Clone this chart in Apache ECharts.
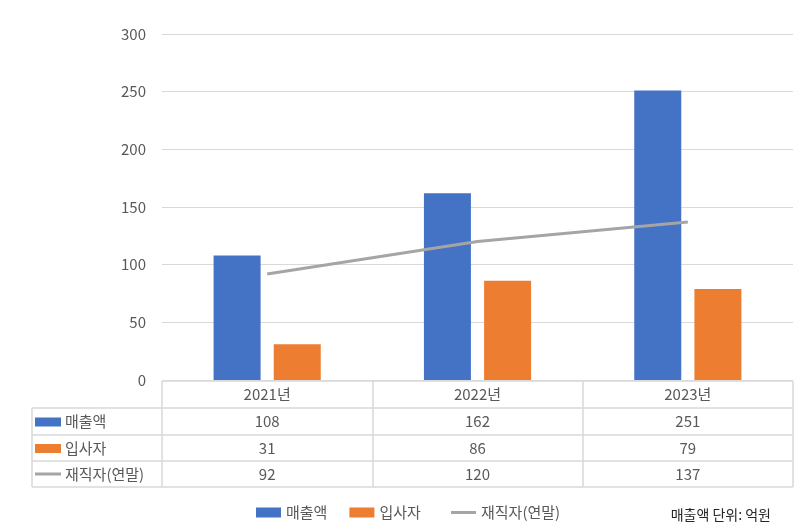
<!DOCTYPE html>
<html>
<head>
<meta charset="utf-8">
<script src="https://cdn.jsdelivr.net/npm/echarts@6/dist/echarts.min.js"></script>
<style>
  html, body { margin: 0; padding: 0; background: #fff; }
  #main { width: 803px; height: 531px; }
</style>
</head>
<body>
<div id="main"></div>
<script>
const years = ['2021년', '2022년', '2023년']
const sales = [108, 162, 251]
const hires = [31, 86, 79]
const staff = [92, 120, 137]
const seriesNames = ['매출액', '입사자', '재직자(연말)']
const colors = ['#4472c4', '#ed7d31', '#a5a5a5']

const FONT = '"Noto Sans CJK KR", "Noto Sans", sans-serif'
const TXT = '#595959'

const chartDom = document.getElementById('main')
const myChart = echarts.init(chartDom)

const option = {
    animation: false,
    textStyle: { fontFamily: FONT },
    grid: { left: 162, right: 10, top: 34, bottom: 151 },
    legend: [
        {
            top: 500,
            left: 251,
            itemWidth: 25,
            itemHeight: 10,
            itemGap: 22,
            textStyle: { color: TXT, fontSize: 15, fontFamily: FONT },
            data: [
                { name: seriesNames[0], icon: 'rect' },
                { name: seriesNames[1], icon: 'rect' }
            ]
        },
        {
            // line series gets its own legend so the icon can be a thin bar
            top: 500,
            left: 446,
            itemWidth: 25,
            itemHeight: 3,
            textStyle: { color: TXT, fontSize: 15, fontFamily: FONT },
            data: [{ name: seriesNames[2], icon: 'rect' }]
        }
    ],
    xAxis: {
        type: 'category',
        data: years,
        axisLine: { show: false },
        axisTick: { show: false },
        axisLabel: { color: TXT, fontSize: 15, margin: 7, fontFamily: FONT }
    },
    yAxis: {
        type: 'value',
        min: 0,
        max: 300,
        interval: 50,
        axisLabel: { color: TXT, fontSize: 15, margin: 16, fontFamily: FONT },
        splitLine: { lineStyle: { color: '#d9d9d9' } }
    },
    series: [
        {
            name: seriesNames[0],
            type: 'bar',
            data: sales,
            barWidth: 47,
            barGap: '28%',
            itemStyle: { color: colors[0] }
        },
        {
            name: seriesNames[1],
            type: 'bar',
            data: hires,
            barWidth: 47,
            barGap: '28%',
            itemStyle: { color: colors[1] }
        },
        {
            name: seriesNames[2],
            type: 'line',
            data: staff,
            symbol: 'none',
            lineStyle: { color: colors[2], width: 3 },
            itemStyle: { color: colors[2] }
        }
    ]
}

myChart.setOption(option)

// data table under the plot
const rows = [sales, hires, staff]
const colEdges = [32, 162, 373, 583, 793]
const rowEdges = [381, 408, 435, 461, 487]
const lineColor = '#d9d9d9'
const g = []

// horizontal lines
g.push({ type: 'line', shape: { x1: colEdges[1], y1: rowEdges[0], x2: colEdges[4], y2: rowEdges[0] }, style: { stroke: lineColor, lineWidth: 1.5 } })
for (let r = 1; r < rowEdges.length; r++) {
    g.push({ type: 'line', shape: { x1: colEdges[0], y1: rowEdges[r], x2: colEdges[4], y2: rowEdges[r] }, style: { stroke: lineColor, lineWidth: 1.5 } })
}
// vertical lines
g.push({ type: 'line', shape: { x1: colEdges[0], y1: rowEdges[1], x2: colEdges[0], y2: rowEdges[4] }, style: { stroke: lineColor, lineWidth: 1.5 } })
for (let c = 1; c < colEdges.length; c++) {
    g.push({ type: 'line', shape: { x1: colEdges[c], y1: rowEdges[0], x2: colEdges[c], y2: rowEdges[4] }, style: { stroke: lineColor, lineWidth: 1.5 } })
}

// row labels with swatches
rows.forEach((vals, r) => {
    const cy = (rowEdges[r + 1] + rowEdges[r + 2]) / 2
    if (r < 2) {
        g.push({ type: 'rect', shape: { x: 35, y: cy - 4, width: 26, height: 9 }, style: { fill: colors[r] } })
    } else {
        g.push({ type: 'line', shape: { x1: 35, y1: cy, x2: 61, y2: cy }, style: { stroke: colors[r], lineWidth: 3 } })
    }
    g.push({ type: 'text', x: 65, y: cy, style: { text: seriesNames[r], fill: TXT, font: '15px ' + FONT, textVerticalAlign: 'middle' } })
    vals.forEach((v, i) => {
        const cx = myChart.convertToPixel({ xAxisIndex: 0 }, years[i])
        g.push({ type: 'text', x: cx, y: cy, style: { text: String(v), fill: TXT, font: '15px ' + FONT, textAlign: 'center', textVerticalAlign: 'middle' } })
    })
})

// unit note
g.push({ type: 'text', right: 32, top: 508, style: { text: '매출액 단위: 억원', fill: '#262626', font: '14px ' + FONT } })

myChart.setOption({ graphic: g })
</script>
</body>
</html>
